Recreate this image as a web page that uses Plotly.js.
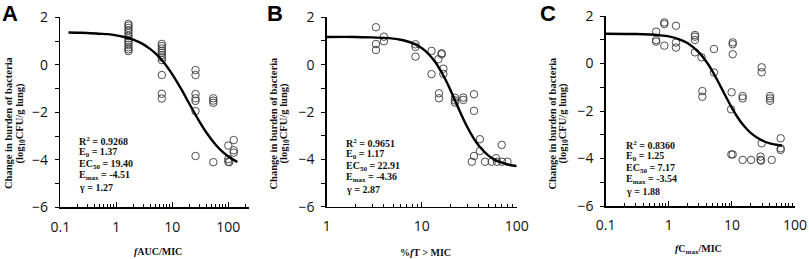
<!DOCTYPE html>
<html>
<head>
<meta charset="utf-8">
<script src="https://cdn.plot.ly/plotly-3.0.1.min.js"></script>
<style>html,body{margin:0;padding:0;background:#fff;}#chart{width:809px;height:259px;}</style>
</head>
<body>
<div id="chart"></div>
<script>
// ---------- data ----------
// Panel A: fAUC/MIC
const aX = [1.65,1.65,1.65,1.65,1.65,1.65,1.65,1.65,1.65,1.65,1.65,1.65,1.65,
            6.5,6.5,6.5,6.5,6.5,6.5,6.5,6.5,6.5,6.5,6.5,
            26,26,26,26,26,26,26,
            54,54,54,54,
            100,100,100,104,
            125,125,125];
const aY = [1.72,1.65,1.55,1.45,1.34,1.22,1.12,1.02,0.94,0.84,0.74,0.65,0.58,
            0.88,0.79,0.69,0.59,0.51,0.41,0.31,0.20,-0.43,-1.22,-1.42,
            -0.22,-0.43,-1.23,-1.41,-1.52,-1.95,-3.84,
            -1.41,-1.51,-1.60,-4.10,
            -3.40,-3.97,-4.08,-4.10,
            -3.17,-3.60,-3.70];
const aCurveX = [0.14,0.2,0.3,0.5,0.7,1,1.5,2,3,4,5,7,10,15,20,30,40,60,80,100,145];
const aCurveY = [1.36,1.35,1.34,1.31,1.29,1.24,1.15,1.06,0.87,0.67,0.48,0.11,-0.40,-1.09,-1.63,-2.36,-2.83,-3.38,-3.68,-3.86,-4.09];

// Panel B: %fT > MIC
const bX = [3.3,3.3,3.3, 4.0,4.0, 8.6,8.6,8.6, 12.7,12.7, 15, 16.2,16.2, 16.9,16.9, 15.2,15.2,
            22.4,22.4,22.4, 27.4,27.4, 35.5,35.5, 41,41, 35.5, 33.7, 46.4, 54.6, 60.6, 62, 69.5, 70, 80];
const bY = [1.58,0.87,0.62, 1.18,0.99, 0.86,0.75,0.34, 0.58,-0.40, 0.23, 0.48,0.44, -0.17,-0.39, -1.21,-1.42,
            -1.40,-1.51,-1.60, -1.39,-1.49, -1.25,-1.95, -3.15,-3.65, -3.86, -4.10, -4.10, -4.10, -3.95, -4.10, -3.39, -4.10, -4.10];
const bCurveX = [1,2,3,4,5,6,8,10,12,14,16,18,20,23,26,30,35,40,50,60,70,85,100];
const bCurveY = [1.17,1.17,1.15,1.13,1.10,1.05,0.91,0.70,0.42,0.09,-0.29,-0.67,-1.06,-1.61,-2.09,-2.61,-3.09,-3.43,-3.83,-4.03,-4.14,-4.24,-4.28];

// Panel C: fCmax/MIC
const cX = [0.63,0.63,0.63, 0.85,0.85,0.85, 1.3,1.3,1.3, 2.6,2.6,2.6,2.6, 3.3, 5.2,5.2, 3.4,3.4,
            10.3,10.3,10.3, 9.9, 9.7, 14.8,14.8, 29.6,29.6, 40.2,40.2,40.2, 29.6, 9.8,10.3, 14.8, 20.1,
            28.4,28.4,29, 42.8, 59.3,59.3,59.3];
const cY = [1.34,0.99,0.92, 1.73,1.66,0.75, 1.59,0.88,0.67, 1.20,1.13,0.99,0.47, 0.26, 0.61,-0.38, -1.16,-1.40,
            0.89,0.81,0.39, -1.21, -1.93, -1.37,-1.47, -0.16,-0.37, -1.37,-1.47,-1.57, -3.36, -3.83,-3.83, -4.06, -4.06,
            -3.92,-4.06,-4.09, -4.06, -3.15,-3.57,-3.64];
const cCurveX = [0.1,0.2,0.3,0.5,0.7,1,1.5,2,3,4,5,6,7,8,10,12,15,20,30,40,62];
const cCurveY = [1.25,1.24,1.24,1.22,1.19,1.14,1.01,0.85,0.47,0.05,-0.36,-0.75,-1.09,-1.39,-1.87,-2.22,-2.58,-2.93,-3.24,-3.36,-3.46];

const panelLetters = ['A','B','C'];
const xTitles = ['<i>f</i>AUC/MIC', '%<i>f</i>T &gt; MIC', '<i>f</i>C<sub>max</sub>/MIC'];
const statsA = ['R<sup>2</sup> = 0.9268','E<sub>0</sub> = 1.37','EC<sub>50</sub> = 19.40','E<sub>max</sub> = -4.51','γ = 1.27'];
const statsB = ['R<sup>2</sup> = 0.9651','E<sub>0</sub> = 1.17','EC<sub>50</sub> = 22.91','E<sub>max</sub> = -4.36','γ = 2.87'];
const statsC = ['R<sup>2</sup> = 0.8360','E<sub>0</sub> = 1.25','EC<sub>50</sub> = 7.17','E<sub>max</sub> = -3.54','γ = 1.88'];
const yTitle1 = 'Change in burden of bacteria';
const yTitle2 = '(log<sub>10</sub>CFU/g lung)';

// ---------- layout helpers ----------
const W = 809, H = 259;
const px = v => v / W;
const py = v => 1 - v / H;

const markerStyle = {symbol:'circle-open', size:7.5, color:'#3a3a3a', line:{width:0.9, color:'#3a3a3a'}};
const lineStyle = {color:'#000', width:2.4, shape:'spline', smoothing:0.8};

function pts(x, y, n) {
  return {x:x, y:y, type:'scatter', mode:'markers', marker:markerStyle,
          xaxis:'x'+n, yaxis:'y'+n, hoverinfo:'skip'};
}
function crv(x, y, n) {
  return {x:x, y:y, type:'scatter', mode:'lines', line:lineStyle,
          xaxis:'x'+n, yaxis:'y'+n, hoverinfo:'skip'};
}
const data = [
  pts(aX,aY,''), crv(aCurveX,aCurveY,''),
  pts(bX,bY,'2'), crv(bCurveX,bCurveY,'2'),
  pts(cX,cY,'3'), crv(cCurveX,cCurveY,'3')
];

const tickFont = {family:'Open Sans, DejaVu Sans, sans-serif', size:14, color:'#111'};
function xAxis(range, dom, anchor) {
  return {type:'log', range:range, domain:dom, anchor:anchor,
    showline:true, linecolor:'#000', linewidth:1.5, mirror:false,
    ticks:'inside', ticklen:5, tickwidth:1, tickcolor:'#000', dtick:1,
    minor:{ticks:'inside', ticklen:3, tickwidth:1, tickcolor:'#000', dtick:'D1', showgrid:false},
    showgrid:false, zeroline:false, tickfont:tickFont, ticklabelstandoff:6, fixedrange:true};
}
function yAxis(dom, anchor) {
  return {range:[-6,2], domain:dom, anchor:anchor,
    showline:true, linecolor:'#000', linewidth:1.5,
    ticks:'outside', ticklen:4, tickwidth:1, tickcolor:'#000', dtick:2, tick0:0,
    minor:{ticks:'outside', ticklen:4, tickwidth:1, tickcolor:'#000', dtick:1, showgrid:false},
    showgrid:false, zeroline:false, tickfont:tickFont, ticklabelstandoff:4, fixedrange:true};
}

const serif = 'Liberation Serif, Times New Roman, serif';
const ann = [];
function txt(text, x, y, opts) {
  ann.push(Object.assign({text:text, x:px(x), y:py(y), xref:'paper', yref:'paper',
    showarrow:false, xanchor:'center', yanchor:'middle',
    font:{family:serif, size:10, color:'#111', weight:'bold'}}, opts || {}));
}
// panel letters
const letterPos = [[10,13],[275,13],[548,13]];
panelLetters.forEach((L,i) => txt('<b>'+L+'</b>', letterPos[i][0], letterPos[i][1],
  {font:{family:'Liberation Sans, Arial, sans-serif', size:22, color:'#000', weight:'bold'}}));
// x titles
const xtPos = [[157.5,251],[425,252],[698,249]];
xTitles.forEach((t,i) => txt('<b>'+t+'</b>', xtPos[i][0], xtPos[i][1]));
// y titles
const ytPos = [[9,20.5],[273.5,284.5],[552.5,563.5]];
const yFont = {family:serif, size:10.5, color:'#111', weight:'bold'};
ytPos.forEach(p => {
  txt('<b>'+yTitle1+'</b>', p[0], 123, {textangle:-90, font:yFont});
  txt('<b>'+yTitle2+'</b>', p[1], 124, {textangle:-90, font:yFont});
});
// stats
function stats(lines, x, y0) {
  lines.forEach((t,i) => txt('<b>'+t+'</b>', x, y0 + i*11.5, {xanchor:'left'}));
}
stats(statsA, 77.3, 141);
stats(statsB, 344, 143);
stats(statsC, 624, 145);

const layout = {
  width:W, height:H, margin:{l:0,r:0,t:0,b:0}, showlegend:false,
  paper_bgcolor:'#fff', plot_bgcolor:'rgba(0,0,0,0)',
  xaxis:  xAxis([-1, 2.375], [px(60.3), px(249.3)], 'y'),
  yaxis:  yAxis([py(207.3), py(17.3)], 'x'),
  xaxis2: xAxis([0, 2], [px(326.7), px(516.7)], 'y2'),
  yaxis2: yAxis([py(206.7), py(17.3)], 'x2'),
  xaxis3: xAxis([-1, 2], [px(605.7), px(795)], 'y3'),
  yaxis3: yAxis([py(206), py(16)], 'x3'),
  annotations: ann
};
Plotly.newPlot('chart', data, layout, {staticPlot:true, displayModeBar:false});
</script>
</body>
</html>
